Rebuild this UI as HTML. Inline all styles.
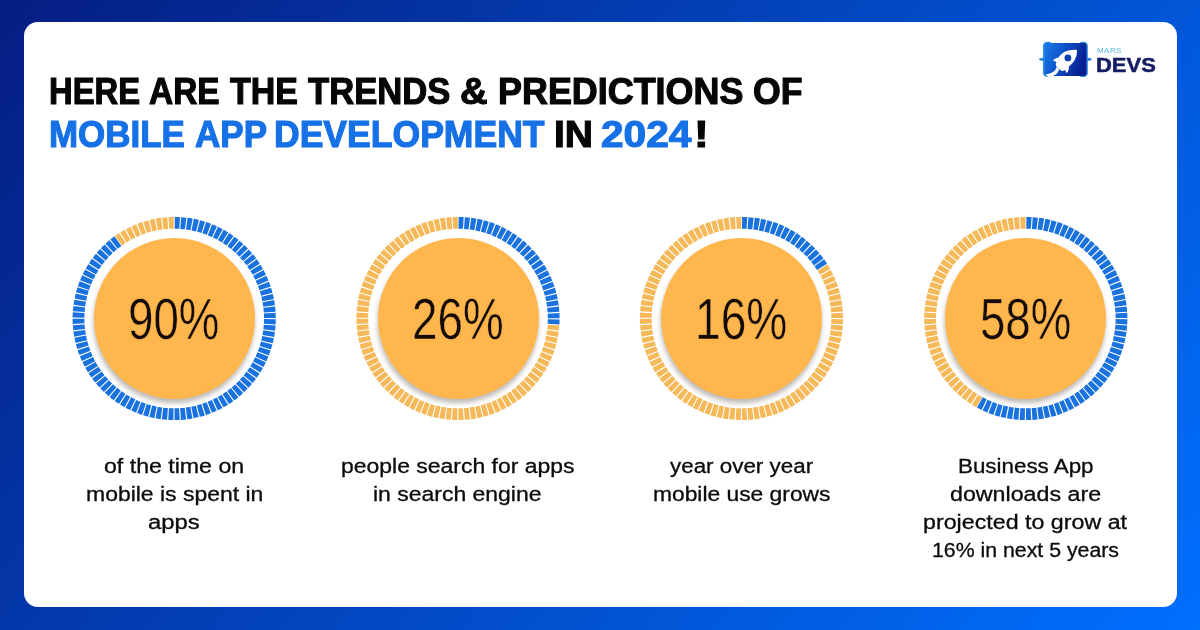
<!DOCTYPE html>
<html lang="en">
<head>
<meta charset="utf-8">
<title>Trends &amp; Predictions of Mobile App Development in 2024</title>
<style>
*{margin:0;padding:0;box-sizing:border-box}
html,body{width:1200px;height:630px;overflow:hidden}
body{position:relative;font-family:"Liberation Sans",sans-serif;background:linear-gradient(130deg,#051d82 0%,#0070ff 100%);}
.card{position:absolute;left:23.5px;top:22px;width:1153px;height:585px;background:#fff;border-radius:14px}
.tw,.dw{position:absolute;white-space:nowrap;transform-origin:0 0;display:block}
.tw{font-family:"Liberation Sans",sans-serif;font-weight:700;font-size:36px;line-height:42px;-webkit-text-stroke:1.1px currentColor}
.k{color:#060606}
.b{color:#1670e6}
.dw{font-family:"Liberation Sans",sans-serif;font-weight:400;font-size:20px;line-height:28px;color:#0b0b0b;-webkit-text-stroke:.3px #0b0b0b}
svg.rings{position:absolute;left:0;top:0;width:1200px;height:630px}
svg.rings path{fill:none;stroke-width:11.8;stroke-dasharray:4.9130 1.1000;stroke-dashoffset:5.4630}
.disc{position:absolute;width:161px;height:161px;border-radius:50%;background:#ffb64c;top:238.1px;box-shadow:-.5px 4px 5px rgba(60,45,30,.34)}
.nw{position:absolute;white-space:nowrap;transform-origin:0 0;display:block;font-family:"Liberation Sans",sans-serif;font-weight:400;font-size:58px;line-height:80px;color:#140a06;-webkit-text-stroke:.5px #ffb64c}
.logo{position:absolute;left:1036px;top:36px;width:60px;height:46px}
.lw{position:absolute;white-space:nowrap;transform-origin:0 0;display:block;font-family:"Liberation Sans",sans-serif}
.mars{font-weight:400;font-size:7px;line-height:10px;color:#58b8e6;letter-spacing:.35px}
.devs{font-weight:700;font-size:20px;line-height:24px;color:#141c64;-webkit-text-stroke:.5px #141c64}
</style>
</head>
<body>
<div class="card"></div>
<h1>
<span class="tw k" style="left:49.21px;top:70.90px;transform:scaleX(0.9097)">HERE</span>
<span class="tw k" style="left:149.47px;top:70.90px;transform:scaleX(0.9280)">ARE</span>
<span class="tw k" style="left:230.24px;top:70.90px;transform:scaleX(0.9427)">THE</span>
<span class="tw k" style="left:307.64px;top:70.90px;transform:scaleX(0.9620)">TRENDS</span>
<span class="tw k" style="left:460.04px;top:70.90px;transform:scaleX(1.0612)">&amp;</span>
<span class="tw k" style="left:498.25px;top:70.90px;transform:scaleX(0.9975)">PREDICTIONS</span>
<span class="tw k" style="left:752.61px;top:70.90px;transform:scaleX(0.9907)">OF</span>
<span class="tw b" style="left:49.10px;top:114.20px;transform:scaleX(0.9709)">MOBILE</span>
<span class="tw b" style="left:195.16px;top:114.20px;transform:scaleX(0.9726)">APP</span>
<span class="tw b" style="left:274.27px;top:114.20px;transform:scaleX(0.9872)">DEVELOPMENT</span>
<span class="tw k" style="left:554.10px;top:114.20px;transform:scaleX(1.0853)">IN</span>
<span class="tw b" style="left:600.85px;top:114.20px;transform:scaleX(1.1285)">2024</span><span class="tw k" style="left:693.61px;top:114.20px;transform:scaleX(1.2320)">!</span>
</h1>

<svg class="rings" viewBox="0 0 1200 630">
<path d="M174.20 222.80A95.7 95.7 0 0 1 257.08 366.35A95.7 95.7 0 0 1 91.32 366.35A95.7 95.7 0 0 1 117.95 241.08" stroke="#1a72df"/>
<path d="M117.95 241.08A95.7 95.7 0 0 1 174.20 222.80" stroke="#f6b95a"/>
<path d="M458.00 222.80A95.7 95.7 0 0 1 553.51 324.51" stroke="#1a72df"/>
<path d="M553.51 324.51A95.7 95.7 0 0 1 405.04 398.21A95.7 95.7 0 0 1 415.45 232.78A95.7 95.7 0 0 1 458.00 222.80" stroke="#f6b95a"/>
<path d="M741.50 222.80A95.7 95.7 0 0 1 822.30 267.22" stroke="#1a72df"/>
<path d="M822.30 267.22A95.7 95.7 0 0 1 745.51 414.12A95.7 95.7 0 0 1 656.69 274.16A95.7 95.7 0 0 1 741.50 222.80" stroke="#f6b95a"/>
<path d="M1025.80 222.80A95.7 95.7 0 0 1 1108.68 366.35A95.7 95.7 0 0 1 979.70 402.36" stroke="#1a72df"/>
<path d="M979.70 402.36A95.7 95.7 0 0 1 976.22 236.64A95.7 95.7 0 0 1 1025.80 222.80" stroke="#f6b95a"/>
</svg>

<div class="disc" style="left:93.7px"></div>
<div class="disc" style="left:377.5px"></div>
<div class="disc" style="left:661.0px"></div>
<div class="disc" style="left:945.3px"></div>


<div class="nums">
<span class="nw" style="left:128.14px;top:279.15px;transform:scaleX(0.7874)">90%</span>
<span class="nw" style="left:411.94px;top:279.15px;transform:scaleX(0.7891)">26%</span>
<span class="nw" style="left:694.73px;top:279.15px;transform:scaleX(0.7945)">16%</span>
<span class="nw" style="left:980.34px;top:279.15px;transform:scaleX(0.7856)">58%</span>
</div>

<div class="descs">
<span class="dw" style="left:103.93px;top:451.50px;transform:scaleX(1.1564)">of the time on</span>
<span class="dw" style="left:85.56px;top:479.50px;transform:scaleX(1.1480)">mobile is spent in</span>
<span class="dw" style="left:148.11px;top:507.50px;transform:scaleX(1.1905)">apps</span>
<span class="dw" style="left:340.97px;top:451.50px;transform:scaleX(1.1474)">people search for apps</span>
<span class="dw" style="left:373.26px;top:479.50px;transform:scaleX(1.1482)">in search engine</span>
<span class="dw" style="left:669.70px;top:451.50px;transform:scaleX(1.1194)">year over year</span>
<span class="dw" style="left:652.57px;top:479.50px;transform:scaleX(1.1402)">mobile use grows</span>
<span class="dw" style="left:957.72px;top:451.50px;transform:scaleX(1.1185)">Business App</span>
<span class="dw" style="left:950.23px;top:479.50px;transform:scaleX(1.1611)">downloads are</span>
<span class="dw" style="left:923.45px;top:507.50px;transform:scaleX(1.1616)">projected to grow at</span>
<span class="dw" style="left:932.00px;top:535.50px;transform:scaleX(1.0646)">16% in next 5 years</span>
</div>

<svg class="logo" viewBox="1036 36 60 46">
<defs>
<linearGradient id="lg" x1="0" y1="0" x2="1" y2="0.3"><stop offset="0" stop-color="#1b7aea"/><stop offset="0.45" stop-color="#0f55cc"/><stop offset="1" stop-color="#071f92"/></linearGradient>
</defs>
<g fill="none" stroke="#2f8fe8" stroke-width="1.7" stroke-linejoin="round" stroke-linecap="round">
<path d="M1050 42.7 H1047.2 a3.4 3.4 0 0 0 -3.4 3.4 V72.8 a3.4 3.4 0 0 0 3.4 3.4 H1050"/>
<path d="M1081 42.7 H1083.6 a3.4 3.4 0 0 1 3.4 3.4 V72.8 a3.4 3.4 0 0 1 -3.4 3.4 H1081"/>
</g>
<path d="M1044 57.4 L1040.2 58.2 a1.1 1.1 0 0 0 0 2.2 L1044 61.2 Z M1087 57.4 L1090.6 58.2 a1.1 1.1 0 0 1 0 2.2 L1087 61.2 Z" fill="#2c86de"/>
<rect x="1044.2" y="43" width="42.4" height="33" rx="2.4" fill="url(#lg)"/>
<path d="M1076.9 49.8 C1068.6 49 1061.8 52 1058.2 57.8 C1056.2 58 1054.4 59 1052.9 60.4 C1054.5 60.8 1055.7 61.4 1056.5 62.2 C1055.4 63.8 1055.6 65.4 1056.6 66.4 L1060.6 70.3 C1061.8 71.3 1063.5 71.1 1064.8 70 C1065.7 70.8 1066.3 71.9 1066.7 73.2 C1068.4 71.3 1069.1 68.9 1068.9 66.5 C1074.6 62.4 1077.4 56.4 1076.9 49.8 Z" fill="#fff"/>
<circle cx="1067.9" cy="57.9" r="3.4" fill="#0b3fae"/>
<path d="M1056.6 66.2 C1056.5 70.2 1052.6 73.6 1045.4 74.5 L1048.3 77.1 C1054 76.4 1057.6 73.8 1059.2 69.4 Z" fill="#fff"/>
</svg>
<div class="brand">
<span class="lw mars" style="left:1097.12px;top:46.00px;transform:scaleX(1.1512)">MARS</span>
<span class="lw devs" style="left:1096.40px;top:52.55px;transform:scaleX(1.0981)">DEVS</span>
</div>
</body>
</html>
